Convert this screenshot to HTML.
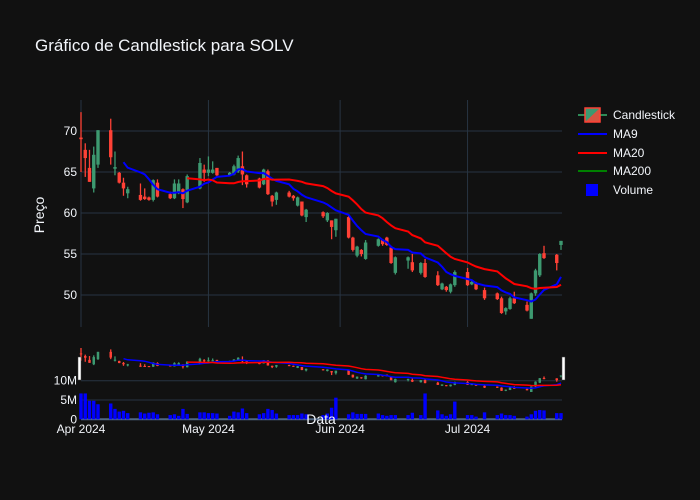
<!DOCTYPE html>
<html><head><meta charset="utf-8"><style>
body{margin:0;background:#111111;}
svg{display:block;font-family:"Liberation Sans",sans-serif;}
</style></head><body>
<svg id="chart" width="700" height="500">
<rect width="700" height="500" fill="#111111"/>
<text x="35" y="51" fill="#f2f5fa" font-size="17">Gráfico de Candlestick para SOLV</text>
<g id="grid"></g>
<g id="vol"></g>
<g id="slider"></g>
<g id="main"></g>
<text transform="translate(44,215) rotate(-90)" fill="#f2f5fa" font-size="14" text-anchor="middle">Preço</text>
<text x="321" y="424" fill="#f2f5fa" font-size="14" text-anchor="middle">Data</text>
<g id="legend" font-size="12" fill="#f2f5fa">
 <g>
  <line x1="578" y1="115" x2="607" y2="115" stroke="#2e8b57" stroke-width="2"/>
  <rect x="585" y="108" width="15" height="14" fill="#3d9970" stroke="#ff4136" stroke-width="1.5"/>
  <polygon points="585,122 600,108 600,122" fill="#ff4136" opacity="0.8"/>
  <text x="613" y="119">Candlestick</text></g>
 <g><line x1="578" y1="134" x2="607" y2="134" stroke="#0000ff" stroke-width="2"/><text x="613" y="138">MA9</text></g>
 <g><line x1="578" y1="153" x2="607" y2="153" stroke="#ff0000" stroke-width="2"/><text x="613" y="157">MA20</text></g>
 <g><line x1="578" y1="171" x2="607" y2="171" stroke="#008000" stroke-width="2"/><text x="613" y="175">MA200</text></g>
 <g><rect x="586" y="184" width="12" height="12" fill="#0000ff"/><text x="613" y="194">Volume</text></g>
</g>
</svg>
<script>
const dates=["2024-04-01","2024-04-02","2024-04-03","2024-04-04","2024-04-05","2024-04-08","2024-04-09","2024-04-10","2024-04-11","2024-04-12","2024-04-15","2024-04-16","2024-04-17","2024-04-18","2024-04-19","2024-04-22","2024-04-23","2024-04-24","2024-04-25","2024-04-26","2024-04-29","2024-04-30","2024-05-01","2024-05-02","2024-05-03","2024-05-06","2024-05-07","2024-05-08","2024-05-09","2024-05-10","2024-05-13","2024-05-14","2024-05-15","2024-05-16","2024-05-17","2024-05-20","2024-05-21","2024-05-22","2024-05-23","2024-05-24","2024-05-28","2024-05-29","2024-05-30","2024-05-31","2024-06-03","2024-06-04","2024-06-05","2024-06-06","2024-06-07","2024-06-10","2024-06-11","2024-06-12","2024-06-13","2024-06-14","2024-06-17","2024-06-18","2024-06-20","2024-06-21","2024-06-24","2024-06-25","2024-06-26","2024-06-27","2024-06-28","2024-07-01","2024-07-02","2024-07-03","2024-07-05","2024-07-08","2024-07-09","2024-07-10","2024-07-11","2024-07-12","2024-07-15","2024-07-16","2024-07-17","2024-07-18","2024-07-19","2024-07-22","2024-07-23"];
const open=[69.2,67.7,65.5,63.0,65.9,70.1,65.4,64.9,63.7,62.4,62.2,62.0,61.9,61.6,63.7,62.3,61.8,62.4,62.9,61.3,63.0,65.3,64.9,64.9,65.5,64.6,64.7,65.1,65.7,64.6,64.2,63.5,65.1,62.1,61.6,62.5,62.1,60.9,61.4,59.5,60.1,59.1,59.1,57.9,59.5,57.0,54.8,55.5,54.4,56.0,56.7,57.0,55.8,52.7,54.2,54.0,52.7,53.9,52.4,50.7,51.0,50.4,51.2,52.8,51.3,51.4,50.6,50.2,49.6,48.0,48.3,49.6,48.8,47.1,50.2,52.4,55.1,54.9,56.1];
const high=[72.3,68.5,67.7,68.1,70.1,71.5,67.5,65.0,64.3,63.2,63.6,63.0,62.0,64.1,64.1,62.6,64.1,64.1,63.0,64.7,66.7,65.9,66.9,66.3,65.5,65.0,65.9,67.0,67.5,64.7,64.3,65.4,65.3,62.2,62.6,62.7,62.2,62.0,61.4,60.5,60.2,60.1,59.1,59.3,59.6,57.1,56.0,55.6,56.7,56.9,56.8,57.1,56.0,54.7,54.7,55.0,54.0,54.4,52.9,51.5,51.1,51.4,53.0,53.3,51.7,51.6,50.9,50.3,49.8,48.5,49.8,50.4,49.2,50.3,53.2,55.1,56.0,55.0,56.6];
const low=[65.0,64.4,63.8,62.5,65.5,65.9,64.6,63.6,62.1,61.8,61.5,61.6,61.5,61.4,61.9,61.7,61.7,62.3,60.6,61.2,62.9,63.8,64.5,64.8,64.5,64.5,64.6,64.9,63.4,63.1,63.0,63.4,62.2,60.8,61.0,61.9,61.5,60.8,59.6,58.9,59.4,58.9,56.8,57.1,56.9,55.3,54.6,54.7,54.3,55.9,56.0,56.0,53.8,52.5,53.2,52.8,52.5,52.1,51.1,50.6,50.4,50.2,51.0,51.1,51.2,50.6,49.4,49.4,47.7,47.6,48.2,48.9,48.0,47.1,49.9,52.2,54.4,53.0,55.5];
const close=[69.0,66.7,63.8,67.1,70.1,66.8,65.6,63.7,63.0,62.9,61.6,61.7,61.6,64.0,62.0,61.8,63.6,63.6,61.7,64.5,66.1,64.9,65.3,65.3,64.6,64.9,65.7,66.7,64.7,63.5,63.1,65.3,62.3,61.4,62.5,62.0,61.8,61.9,59.7,60.4,59.6,60.0,58.3,59.3,57.0,55.5,55.9,55.0,56.4,56.8,56.2,56.1,53.9,54.6,54.6,53.0,53.9,52.2,51.2,51.4,50.6,51.3,52.8,51.2,51.6,50.7,49.6,49.5,47.8,48.4,49.6,49.0,48.1,50.2,53.0,55.0,54.5,53.9,56.6];
const volume=[6.7,6.7,4.8,4.8,3.9,4.1,2.7,2.0,2.2,1.6,1.8,1.5,1.7,1.8,1.3,1.1,1.3,0.9,2.7,1.4,1.8,1.8,1.6,1.6,1.5,0.9,2.0,1.8,2.8,1.6,1.3,1.6,2.7,2.4,1.5,1.1,1.1,1.1,1.5,1.3,1.1,1.5,3.0,5.6,1.3,1.8,1.4,1.4,1.4,1.5,1.1,0.9,1.1,1.1,1.1,1.7,1.1,6.7,2.3,1.3,0.9,1.3,4.6,1.1,1.1,0.7,1.8,1.1,1.5,1.1,1.1,0.9,0.7,1.3,2.2,2.4,2.3,1.6,1.6];
const priceTicks=[50,55,60,65,70];
const volTicks=[0,5,10];
const volTickLabels=["0","5M","10M"];
const monthTicks=["2024-04-01","2024-05-01","2024-06-01","2024-07-01"];
const monthLabels=["Apr 2024","May 2024","Jun 2024","Jul 2024"];

const NS="http://www.w3.org/2000/svg";
const day=86400000, t0=Date.parse("2024-04-01"), t1=Date.parse("2024-07-23");
const X0=81,X1=561;
function xs(d){return X0+(Date.parse(d)-t0)/(t1-t0)*(X1-X0);}
function ys(p){return 295-(p-50)*8.2;}
function ysMini(p){return 348+(72.3-p)*1.746;}
function yv(v){return 419.3-v*3.86;}
function el(tag,attrs,parent){const e=document.createElementNS(NS,tag);for(const k in attrs)e.setAttribute(k,attrs[k]);parent.appendChild(e);return e;}
const grid=document.getElementById('grid'),main=document.getElementById('main'),vol=document.getElementById('vol'),slider=document.getElementById('slider');

// grid main
priceTicks.forEach(p=>{
  const l=el('line',{x1:X0,x2:562,y1:ys(p),y2:ys(p),stroke:'#283442','stroke-width':1},grid);
  
  
  const t=el('text',{x:77,y:ys(p)+4,fill:'#f2f5fa','font-size':12,'text-anchor':'end'},grid);
  t.textContent=p;
  
  
});
monthTicks.forEach((m,i)=>{
  const x=xs(m);
  const l=el('line',{x1:x,x2:x,y1:100,y2:327,stroke:'#283442','stroke-width':1},grid);
  
  
  const t=el('text',{x:x,y:433,fill:'#f2f5fa','font-size':12,'text-anchor':'middle'},grid);
  t.textContent=monthLabels[i];
  
  
});
volTicks.forEach((v,i)=>{
  const l=el('line',{x1:X0,x2:562,y1:yv(v),y2:yv(v),stroke:i==0?'#506784':'#283442','stroke-width':i==0?2:1},grid);
  
  
  const t=el('text',{x:77,y:yv(v)+4,fill:'#f2f5fa','font-size':12,'text-anchor':'end'},grid);
  t.textContent=volTickLabels[i];
  
  
});
// volume bars
dates.forEach((d,i)=>{
  const x=xs(d),y=yv(volume[i]);
  const r=el('rect',{x:x-1.7,y:y,width:3.4,height:419.3-y,fill:'#0000ff'},vol);
  
  
});
function ma(n){return close.map((c,i)=>i<n-1?null:close.slice(i-n+1,i+1).reduce((a,b)=>a+b,0)/n);}
const ma9=ma(9),ma20=ma(20);
function drawCandles(g,yf,w,name){
  dates.forEach((d,i)=>{
    const x=xs(d),up=close[i]>=open[i],c=up?'#3d9970':'#ff4136';
    const wk=el('line',{x1:x,x2:x,y1:yf(high[i]),y2:yf(low[i]),stroke:c,'stroke-width':1.3},g);
    
    
    const top=yf(Math.max(open[i],close[i])),bot=yf(Math.min(open[i],close[i]));
    const b=el('rect',{x:x-w/2,y:top,width:w,height:Math.max(bot-top,1),fill:c},g);
    
    
  });
}
function drawLine(g,vals,yf,color,w,name){
  const pts=[];vals.forEach((v,i)=>{if(v!=null)pts.push(xs(dates[i]).toFixed(1)+','+yf(v).toFixed(1));});
  const p=el('polyline',{points:pts.join(' '),fill:'none',stroke:color,'stroke-width':w},g);
  
  
}
drawCandles(main,ys,3.4,'candle');
drawLine(main,ma9,ys,'#0000ff',2,'ma9-line');
drawLine(main,ma20,ys,'#ff0000',2,'ma20-line');
// range slider
drawCandles(slider,ysMini,2.5,'slider-candle');
drawLine(slider,ma9,ysMini,'#0000ff',1.5,'slider-ma9-line');
drawLine(slider,ma20,ysMini,'#ff0000',1.5,'slider-ma20-line');
[[78,'slider-handle-left'],[562,'slider-handle-right']].forEach(h=>{
  const r=el('rect',{x:h[0],y:357,width:3,height:23,fill:'#ffffff',stroke:'#444','stroke-width':0.5},slider);
  
  
});
</script>
</body></html>
